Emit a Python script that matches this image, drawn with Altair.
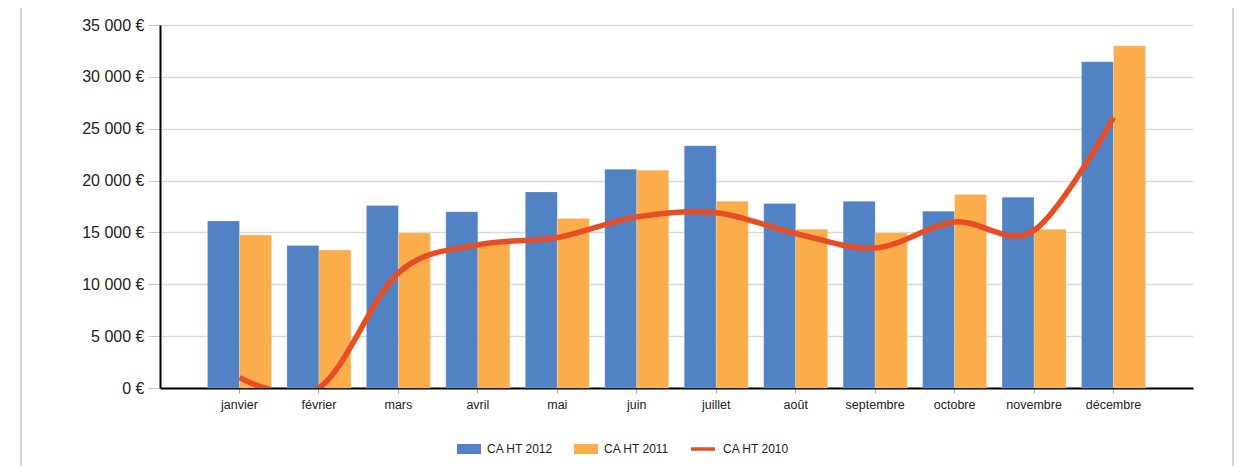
import altair as alt
import pandas as pd

months = ["janvier", "février", "mars", "avril", "mai", "juin", "juillet",
          "août", "septembre", "octobre", "novembre", "décembre"]
ca_2012 = [16100, 13750, 17600, 17000, 18900, 21100, 23350, 17800, 18000, 17050, 18400, 31450]
ca_2011 = [14750, 13300, 14950, 14000, 16350, 21000, 18000, 15300, 14950, 18650, 15300, 33000]
ca_2010 = [1000, 0, 11100, 13800, 14500, 16500, 16900, 14900, 13500, 16000, 15200, 26100]
bar_series = ["CA HT 2012", "CA HT 2011"]
line_series = ["CA HT 2010"]
bar_colors = ["#5182c4", "#fbad4b"]
line_colors = ["#e84e25"]
y_ticks = [0, 5000, 10000, 15000, 20000, 25000, 30000, 35000]

bars_df = pd.DataFrame({
    "mois": months * 2,
    "serie": [bar_series[0]] * 12 + [bar_series[1]] * 12,
    "valeur": ca_2012 + ca_2011,
})
line_df = pd.DataFrame({"mois": months, "serie": line_series * 12, "valeur": ca_2010})

FONT = "Liberation Sans"

common_legend = dict(
    title=None, orient="none", direction="horizontal",
    symbolSize=576, labelFontSize=12, labelFont=FONT, labelColor="#222",
    labelOffset=6, columnPadding=20, padding=0,
)
bar_legend = alt.Legend(legendX=297, legendY=412,
                        symbolType="M-1,-0.42H1V0.42H-1Z", symbolStrokeWidth=0,
                        **common_legend)
line_legend = alt.Legend(legendX=529, legendY=410,
                         symbolType="M-1,0H1", symbolStrokeWidth=3.5,
                         symbolStrokeColor=line_colors[0],
                         **common_legend)

x_enc = alt.X(
    "mois:N", sort=months, title=None,
    scale=alt.Scale(paddingInner=0.195, paddingOuter=0.5975),
    axis=alt.Axis(labelAngle=0, grid=False, domainColor="black", domainWidth=2,
                  tickColor="#aaaaaa", tickSize=5, labelFontSize=12.5, labelFont=FONT,
                  labelColor="#222", labelPadding=5),
)
y_enc = alt.Y(
    "valeur:Q", title=None,
    scale=alt.Scale(domain=[0, 35000], nice=False, zero=True),
    axis=alt.Axis(values=y_ticks, labelExpr="replace(format(datum.value, ','), ',', ' ') + ' €'",
                  tickSize=12, tickColor="#c8c8c8", gridColor="#d9d9d9", gridWidth=1.5,
                  domainColor="black", domainWidth=2, labelFontSize=16, labelFont=FONT,
                  labelColor="#222", labelPadding=4),
)

bars = alt.Chart(bars_df).mark_bar(stroke="#ffffff", strokeOpacity=0.25, strokeWidth=0.8).encode(
    x=x_enc,
    xOffset=alt.XOffset("serie:N", sort=bar_series,
                        scale=alt.Scale(domain=bar_series, paddingInner=0, paddingOuter=0)),
    y=y_enc,
    fill=alt.Fill("serie:N", sort=bar_series,
                  scale=alt.Scale(domain=bar_series, range=bar_colors), legend=bar_legend),
)

line = alt.Chart(line_df).mark_line(strokeWidth=5.5, interpolate="cardinal", clip=True).encode(
    x=alt.X("mois:N", sort=months),
    y=alt.Y("valeur:Q"),
    stroke=alt.Stroke("serie:N", scale=alt.Scale(domain=line_series, range=line_colors),
                      legend=line_legend),
)

frame_df = pd.DataFrame({"a": [0]})
left_rule = alt.Chart(frame_df).mark_rule(color="#d4d4d4", strokeWidth=2).encode(
    x=alt.value(-139), y=alt.value(-17), y2=alt.value(441))
right_rule = alt.Chart(frame_df).mark_rule(color="#d4d4d4", strokeWidth=2).encode(
    x=alt.value(1073), y=alt.value(-17), y2=alt.value(441))

chart = alt.layer(left_rule, right_rule, bars, line).properties(
    width=1033, height=363,
    autosize=alt.AutoSizeParams(type="none"),
    padding={"left": 152, "top": 17, "right": 42, "bottom": 78},
    background="white",
).resolve_scale(fill="independent", stroke="independent").configure_view(stroke=None)

chart.save("out.html", embed_options={"renderer": "svg", "actions": False})
